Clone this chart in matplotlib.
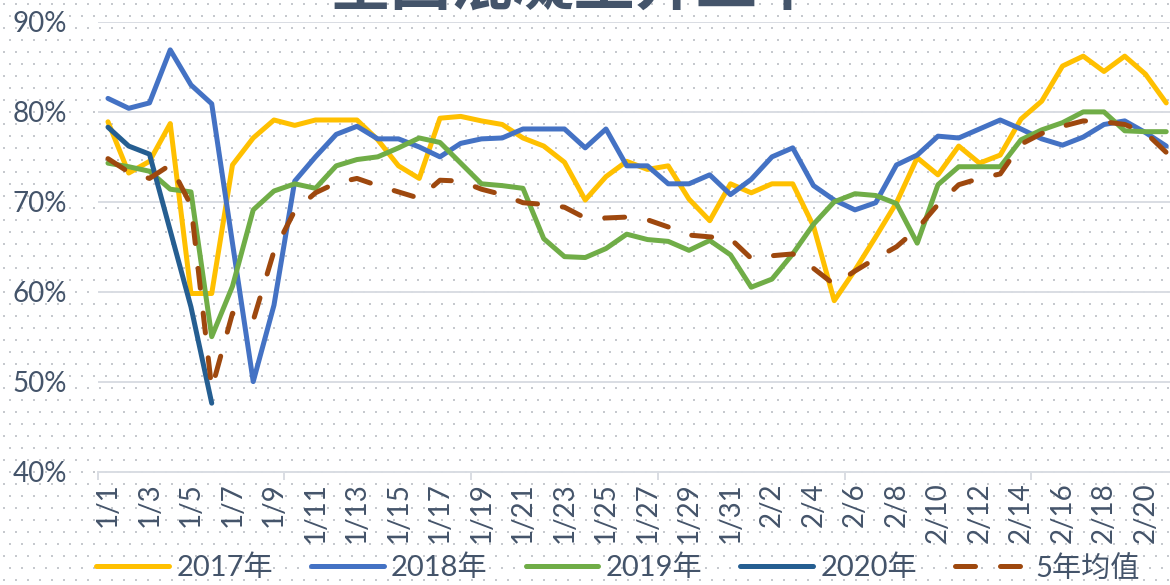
import numpy as np
import matplotlib
matplotlib.use("Agg")
import matplotlib.pyplot as plt
from matplotlib.lines import Line2D

plt.rcParams["font.family"] = ["Lato", "Noto Sans CJK SC"]

# weekly labels (lunar month/day)
dates = [
    "1/1", "1/2", "1/3", "1/4", "1/5", "1/6", "1/7", "1/8", "1/9", "1/10",
    "1/11", "1/12", "1/13", "1/14", "1/15", "1/16", "1/17", "1/18", "1/19", "1/20",
    "1/21", "1/22", "1/23", "1/24", "1/25", "1/26", "1/27", "1/28", "1/29", "1/30",
    "1/31", "2/1", "2/2", "2/3", "2/4", "2/5", "2/6", "2/7", "2/8", "2/9",
    "2/10", "2/11", "2/12", "2/13", "2/14", "2/15", "2/16", "2/17", "2/18", "2/19",
    "2/20", "2/21",
]

rate_2017 = [
    78.9, 73.2, 74.5, 78.7, 59.8, 59.8, 74.1, 77.1, 79.1, 78.5,
    79.1, 79.1, 79.1, 76.9, 74.0, 72.6, 79.3, 79.5, 79.0, 78.6,
    77.1, 76.2, 74.4, 70.2, 72.8, 74.5, 73.6, 74.0, 70.3, 67.9,
    72.0, 71.0, 72.0, 72.0, 67.3, 59.0, 62.4, 66.1, 69.9, 74.9,
    73.0, 76.2, 74.3, 75.2, 79.2, 81.2, 85.1, 86.2, 84.5, 86.2,
    84.2, 81.0,
]
rate_2018 = [
    81.5, 80.4, 81.0, 86.9, 83.0, 80.9, 65.4, 50.0, 58.5, 72.3,
    75.0, 77.5, 78.4, 77.0, 77.0, 76.1, 75.0, 76.5, 77.0, 77.1,
    78.1, 78.1, 78.1, 76.0, 78.1, 74.0, 74.0, 72.0, 72.0, 73.0,
    70.8, 72.5, 75.0, 76.0, 71.8, 70.2, 69.1, 69.9, 74.1, 75.2,
    77.3, 77.1, 78.1, 79.1, 78.1, 77.0, 76.3, 77.2, 78.6, 79.0,
    77.7, 76.2,
]
rate_2019 = [
    74.3, 73.9, 73.4, 71.4, 71.1, 55.0, 60.6, 69.1, 71.2, 72.0,
    71.5, 74.0, 74.7, 75.0, 76.0, 77.1, 76.6, 74.3, 72.0, 71.8,
    71.5, 65.9, 63.9, 63.8, 64.8, 66.4, 65.8, 65.6, 64.6, 65.7,
    64.1, 60.5, 61.4, 64.2, 67.5, 70.0, 70.9, 70.7, 69.8, 65.4,
    71.9, 73.9, 73.9, 73.9, 76.9, 78.0, 78.8, 80.0, 80.0, 77.9,
    77.8, 77.8,
]
rate_2020 = [78.3, 76.2, 75.3, 66.8, 58.3, 47.6]
rate_avg5 = [
    74.8, 73.3, 72.6, 74.1, 69.6, 49.2, 57.6, 56.8, 64.5, 69.0,
    71.0, 72.1, 72.6, 71.8, 71.1, 70.4, 72.4, 72.3, 71.4, 70.8,
    69.9, 69.7, 69.4, 68.2, 68.2, 68.3, 68.0, 67.2, 66.3, 66.1,
    65.9, 63.7, 64.0, 64.2, 62.6, 60.8, 62.3, 63.7, 65.0, 67.0,
    69.7, 71.9, 72.6, 73.1, 76.4, 77.6, 78.4, 79.0, 78.9, 78.6,
    77.7, 75.5,
]

series = [
    ("2017年", rate_2017, "#FFC000"),
    ("2018年", rate_2018, "#4472C4"),
    ("2019年", rate_2019, "#70AD47"),
    ("2020年", rate_2020, "#255E91"),
]
avg_label, avg_color = "5年均值", "#9E480E"

text_color = "#44546A"
grid_color = "#D9DDE3"
W, H = 1170, 585

fig = plt.figure(figsize=(W / 100, H / 100), dpi=100)

# dotted pattern fill behind everything
bg = fig.add_axes([0, 0, 1, 1], zorder=-5)
bg.set_xlim(0, W)
bg.set_ylim(H, 0)
bg.axis("off")
gx, gy = np.meshgrid(np.arange(4, W, 12), np.arange(4, H, 12))
gx = gx + (np.arange(gy.shape[0])[:, None] % 2) * 6
bg.scatter(gx.ravel(), gy.ravel(), s=1.4, marker="s", color="#C6C9CE", linewidths=0)

left, bottom_px, right_px, top_px = 97.6, 471.5, 1176.6, 22.0
ax = fig.add_axes([left / W, 1 - bottom_px / H, (right_px - left) / W, (bottom_px - top_px) / H])
ax.set_facecolor("none")

x = np.arange(len(dates))
line_kw = dict(lw=3.6, solid_joinstyle="round", solid_capstyle="round")
for name, vals, color in series:
    ax.plot(x[: len(vals)], vals, color=color, label=name, **line_kw)
ax.plot(x, rate_avg5, color=avg_color, lw=3.6, dashes=(4, 5),
        dash_capstyle="round", dash_joinstyle="round", label=avg_label)

ax.set_xlim(-0.5, len(dates) - 0.5)
ax.set_ylim(40, 90)
ax.set_yticks(range(40, 91, 10))
ax.set_yticklabels([f"{v}%" for v in range(40, 91, 10)])
ax.yaxis.grid(True, color=grid_color, lw=1.4)
ax.set_axisbelow(True)
for s in ("left", "right", "top"):
    ax.spines[s].set_visible(False)
ax.spines["bottom"].set_color(grid_color)
ax.spines["bottom"].set_linewidth(1.4)

ax.set_xticks(x[::2])
ax.set_xticklabels(dates[::2], rotation=90)
ax.set_xticks(np.arange(-0.5, len(dates), 9), minor=True)
ax.tick_params(axis="x", which="major", length=0, pad=8, labelsize=20, labelcolor=text_color)
ax.tick_params(axis="x", which="minor", length=6, width=1.4, color=grid_color)
ax.tick_params(axis="y", length=0, pad=22, labelsize=20, labelcolor=text_color)

handles = [Line2D([], [], color=c, lw=3.6, solid_capstyle="round") for _, _, c in series]
handles.append(Line2D([], [], color=avg_color, lw=3.6, dashes=(4, 5), dash_capstyle="round"))
labels = [s[0] for s in series] + [avg_label]
fig.legend(handles, labels, loc="lower left", bbox_to_anchor=(96 / W, 0.006), ncol=5,
           frameon=False, fontsize=21, labelcolor=text_color, handlelength=2.5,
           handletextpad=0.25, columnspacing=1.3, borderpad=0, borderaxespad=0)

fig.text(0.49, 1 - 6 / H, "全国混凝土开工率", ha="center", va="baseline",
         fontsize=44, fontweight="bold", color=text_color, family=["Noto Sans CJK SC"])

fig.savefig("out.png", dpi=100)
